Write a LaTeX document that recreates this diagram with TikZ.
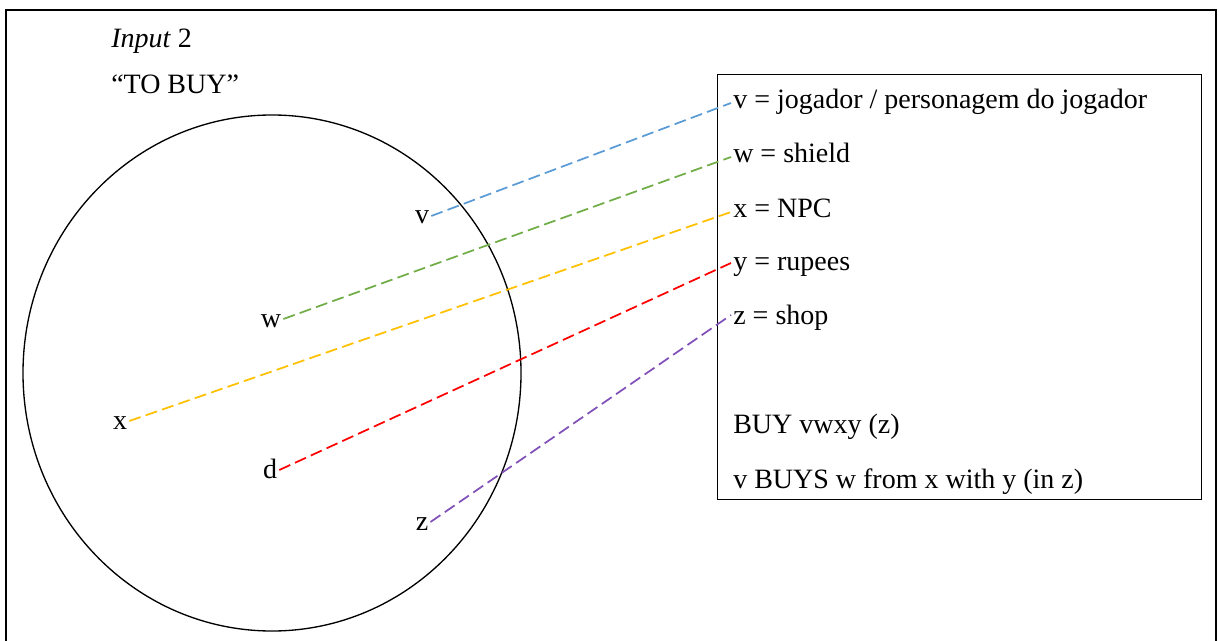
\documentclass[tikz,border=0pt]{standalone}
\usepackage{fontspec}
\setmainfont{Liberation Serif}
\definecolor{cblue}{HTML}{5B9BD5}
\definecolor{cgreen}{HTML}{70AD47}
\definecolor{cyellow}{HTML}{FFC000}
\definecolor{cred}{HTML}{FF0000}
\definecolor{cpurple}{HTML}{8050B8}
\begin{document}
\begin{tikzpicture}[x=0.75pt,y=-0.75pt,
  txt/.style={font=\fontsize{21}{24}\selectfont,inner sep=0pt,anchor=base west},
  lbl/.style={font=\fontsize{21}{24}\selectfont,inner sep=0pt,anchor=base},
  conn/.style={line width=1.3pt,dash pattern=on 9pt off 4pt},
  frame/.style={line width=1.1pt,draw=black}]
\useasboundingbox (0,0) rectangle (1219,641);
% outer frame
\draw[frame] (6,670) -- (6,10) -- (1216,10) -- (1216,670);
\draw[line width=1.8pt] (6,10) -- (1216,10);
% circle
\draw[line width=1pt] (272,373) ellipse [x radius=249, y radius=258];
% titles
\node[txt] (t1) at (111,48) {\textit{Input} 2};
\node[txt] (t2) at (111,94) {“TO BUY”};
% inner box
\node[draw,line width=1pt,minimum width=484*0.75pt,minimum height=425*0.75pt,anchor=north west,inner sep=0pt] (box) at (717,74) {};
% box texts
\node[txt] (tv) at (733,109) {v = jogador / personagem do jogador};
\node[txt] (tw) at (733,163) {w = shield};
\node[txt] (tx) at (733,218) {x = NPC};
\node[txt] (ty) at (733,271) {y = rupees};
\node[txt] (tz) at (733,325) {z = shop};
\node[txt] (tb1) at (733,433) {BUY vwxy (z)};
\node[txt] (tb2) at (733,488) {v BUYS w from x with y (in z)};
% labels in circle
\node[lbl] (lv) at (422,224) {v};
\node[lbl] (lw) at (271,327) {w};
\node[lbl] (lx) at (120,429) {x};
\node[lbl] (ld) at (270,478) {d};
\node[lbl] (lz) at (422,530) {z};
% connectors
\draw[conn,cblue] ([shift={(2,-8)}]lv.base east) -- ([shift={(-2,-6)}]tv.base west);
\draw[conn,cgreen] ([shift={(2,-8)}]lw.base east) -- ([shift={(-2,-6)}]tw.base west);
\draw[conn,cyellow] ([shift={(2,-8)}]lx.base east) -- ([shift={(-2,-6)}]tx.base west);
\draw[conn,cred] ([shift={(2,-8)}]ld.base east) -- ([shift={(-2,-8)}]ty.base west);
\draw[conn,cpurple] ([shift={(2,-8)}]lz.base east) -- ([shift={(-2,-10)}]tz.base west);
\end{tikzpicture}
\end{document}
